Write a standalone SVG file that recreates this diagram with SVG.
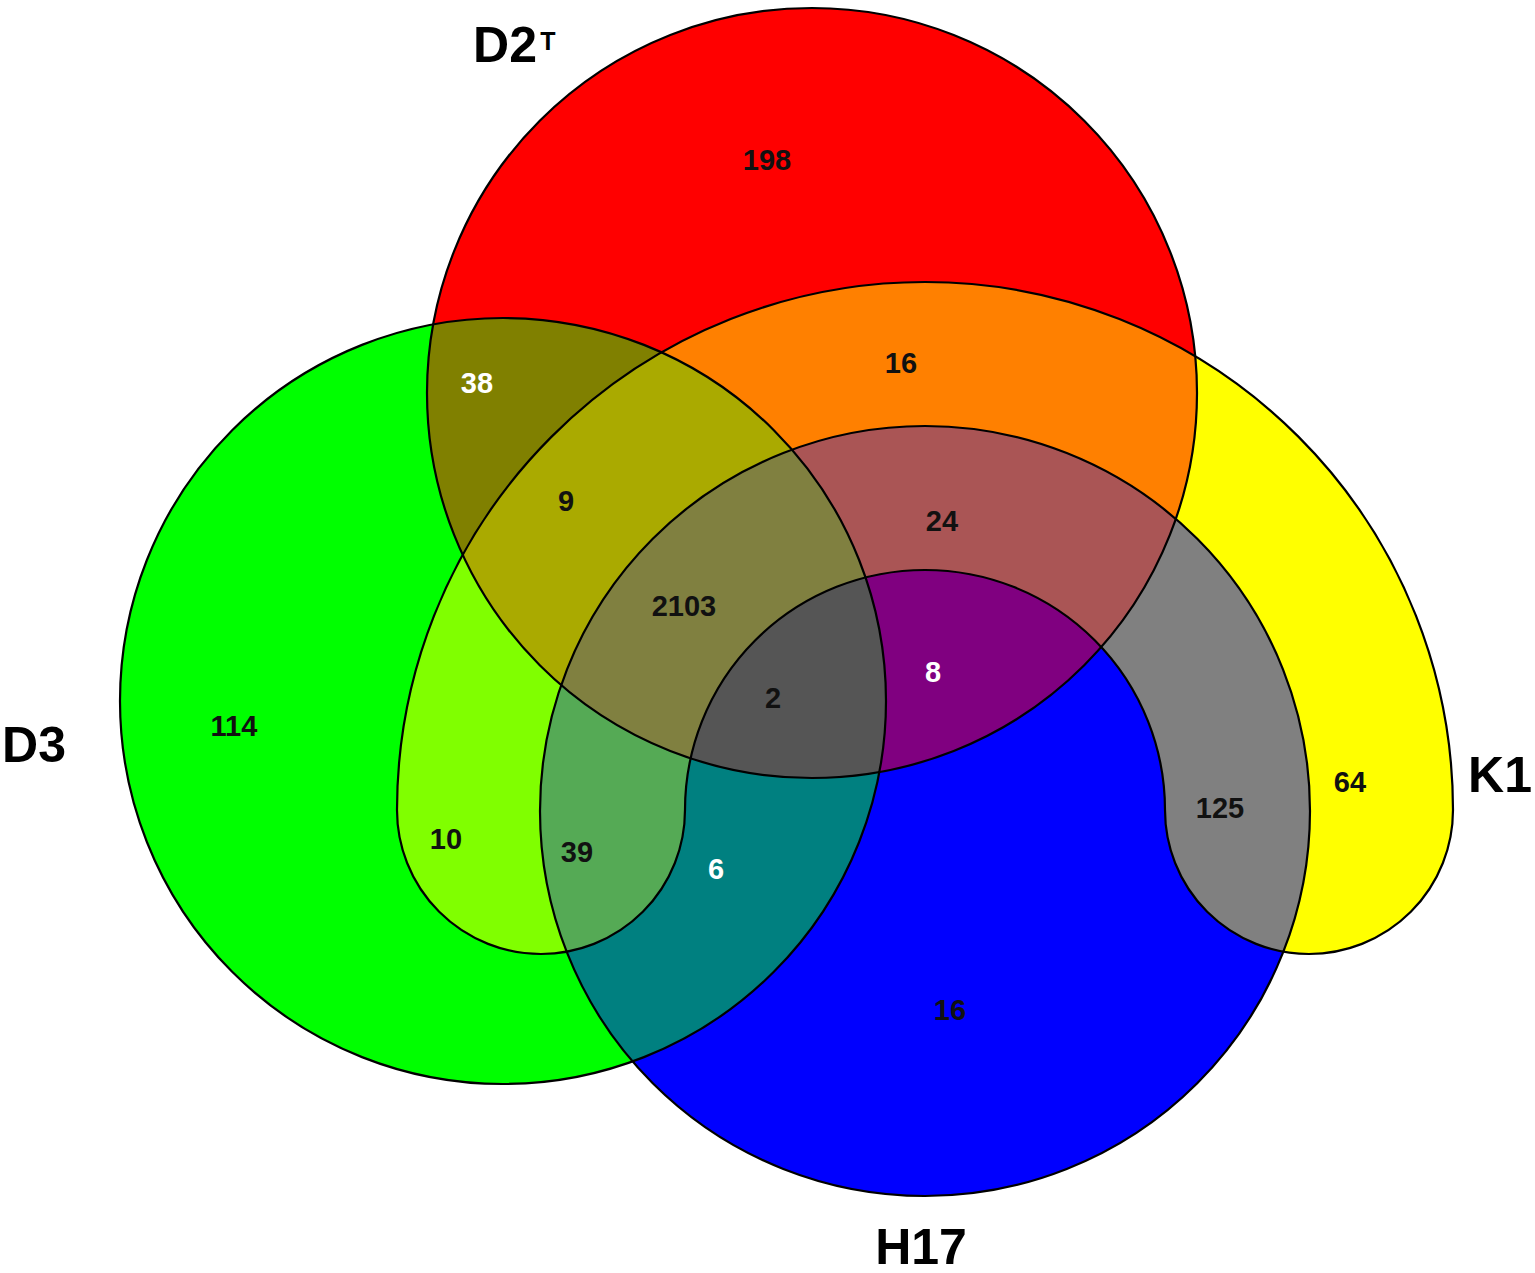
<svg xmlns="http://www.w3.org/2000/svg" xmlns:xlink="http://www.w3.org/1999/xlink" width="1535" height="1273" viewBox="0 0 1535 1273">
<style>
.ol{fill:none;stroke:#000;stroke-width:2.2}
.num{font-family:"Liberation Sans",Arial,sans-serif;font-weight:bold;font-size:29px;text-anchor:middle;fill:#111}
.w{fill:#fff}
.lab{font-family:"Liberation Sans",Arial,sans-serif;font-weight:bold;font-size:50px;text-anchor:middle;fill:#000}
</style>
<defs>
<circle id="sR" cx="812" cy="393" r="385"/>
<circle id="sG" cx="503" cy="701" r="383"/>
<circle id="sB" cx="925" cy="811" r="385"/>
<path id="sY" d="M397,810 A528,528 0 0 1 1453,810 A144,144 0 0 1 1165,810 A240,240 0 0 0 685,810 A144,144 0 0 1 397,810 Z"/>
<clipPath id="cR"><use href="#sR"/></clipPath>
<clipPath id="cG"><use href="#sG"/></clipPath>
<clipPath id="cB"><use href="#sB"/></clipPath>
<clipPath id="cY"><use href="#sY"/></clipPath>
</defs>
<rect width="1535" height="1273" fill="#fff"/>
<g id="region-fills">
<use href="#sR" fill="#ff0000"/>
<use href="#sG" fill="#00ff00"/>
<use href="#sB" fill="#0000ff"/>
<use href="#sY" fill="#ffff00"/>
<g clip-path="url(#cR)"><use href="#sG" fill="#808000"/></g>
<g clip-path="url(#cR)"><use href="#sB" fill="#800080"/></g>
<g clip-path="url(#cR)"><use href="#sY" fill="#ff8000"/></g>
<g clip-path="url(#cG)"><use href="#sB" fill="#008080"/></g>
<g clip-path="url(#cG)"><use href="#sY" fill="#80ff00"/></g>
<g clip-path="url(#cB)"><use href="#sY" fill="#808080"/></g>
<g clip-path="url(#cR)"><g clip-path="url(#cG)"><use href="#sB" fill="#555555"/></g></g>
<g clip-path="url(#cR)"><g clip-path="url(#cG)"><use href="#sY" fill="#aaaa00"/></g></g>
<g clip-path="url(#cR)"><g clip-path="url(#cB)"><use href="#sY" fill="#aa5555"/></g></g>
<g clip-path="url(#cG)"><g clip-path="url(#cB)"><use href="#sY" fill="#55aa55"/></g></g>
<g clip-path="url(#cR)"><g clip-path="url(#cG)"><g clip-path="url(#cB)"><use href="#sY" fill="#808040"/></g></g></g>
</g>
<g id="set-D2T">
<use href="#sR" class="ol"/>
<text class="lab" x="505" y="62">D2</text>
<text x="548" y="50" font-family="Liberation Sans,Arial,sans-serif" font-weight="bold" font-size="25" text-anchor="middle">T</text>
</g>
<g id="set-D3">
<use href="#sG" class="ol"/>
<text class="lab" x="34" y="762">D3</text>
</g>
<g id="set-H17">
<use href="#sB" class="ol"/>
<text class="lab" x="921" y="1264">H17</text>
</g>
<g id="set-K1">
<use href="#sY" class="ol"/>
<text class="lab" x="1500" y="792">K1</text>
</g>
<g id="counts">
<text class="num" x="767" y="170">198</text>
<text class="num w" x="477" y="393">38</text>
<text class="num" x="901" y="373">16</text>
<text class="num" x="566" y="511">9</text>
<text class="num" x="942" y="531">24</text>
<text class="num" x="684" y="616">2103</text>
<text class="num" x="773" y="708">2</text>
<text class="num w" x="933" y="682">8</text>
<text class="num" x="234" y="736">114</text>
<text class="num" x="446" y="849">10</text>
<text class="num" x="577" y="862">39</text>
<text class="num w" x="716" y="879">6</text>
<text class="num" x="1220" y="818">125</text>
<text class="num" x="1350" y="792">64</text>
<text class="num" x="950" y="1020">16</text>
</g>
</svg>
